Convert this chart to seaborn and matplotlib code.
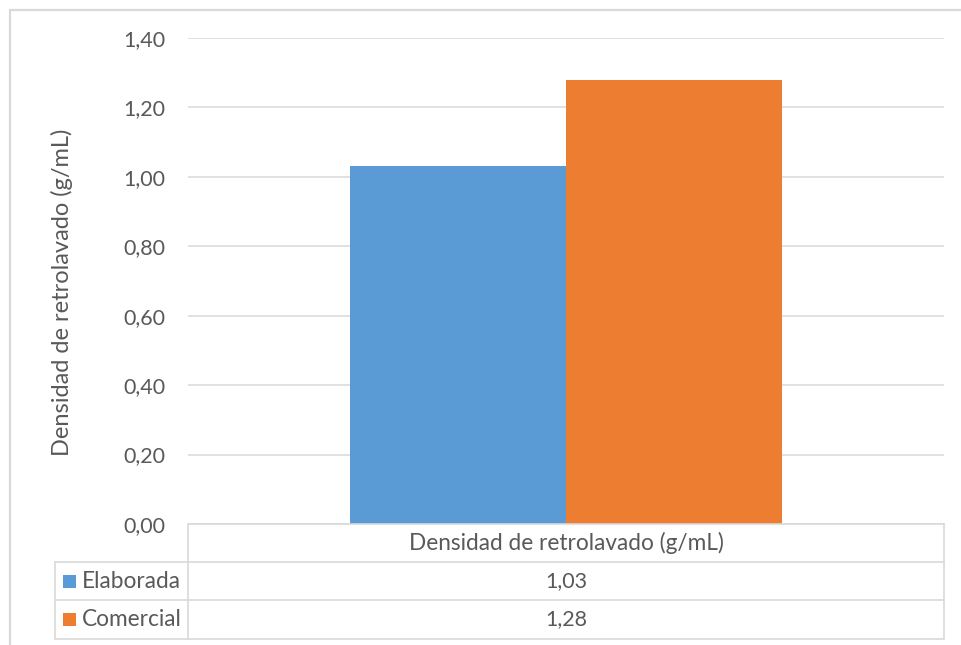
import matplotlib
matplotlib.use("Agg")
import matplotlib.pyplot as plt
from matplotlib.lines import Line2D
from matplotlib.patches import Rectangle
from matplotlib.ticker import FuncFormatter, MultipleLocator
import seaborn as sns
import pandas as pd

# ---- data ----
categorias = ["Densidad de retrolavado (g/mL)"]
series = ["Elaborada", "Comercial"]
valores = [1.03, 1.28]
colores = ["#5B9BD5", "#ED7D31"]
ylabel = "Densidad de retrolavado (g/mL)"

df = pd.DataFrame({
    "categoria": [categorias[0]] * len(series),
    "serie": series,
    "valor": valores,
})

sns.set_theme(style="white")
plt.rcParams["font.family"] = ["Lato", "DejaVu Sans"]
GRAY = "#595959"
LINE = "#d9d9d9"
FS = 15.5
FS2 = 16.3

W, H = 962, 645
fig = plt.figure(figsize=(W / 100, H / 100), dpi=100)
fig.patch.set_facecolor("white")

def fx(x):
    return x / W

def fy(y):
    return 1 - y / H

L, R, T, B = 188, 944, 38, 524
ax = fig.add_axes([fx(L), fy(B), fx(R) - fx(L), fy(T) - fy(B)])

sns.barplot(data=df, x="categoria", y="valor", hue="serie", palette=colores,
            hue_order=series, width=0.571, saturation=1, legend=False, ax=ax,
            edgecolor="none", linewidth=0, zorder=3)

ax.set_xlim(-0.5, 0.5)
ax.set_ylim(0, 1.4)
ax.yaxis.set_major_locator(MultipleLocator(0.2))
ax.yaxis.set_major_formatter(FuncFormatter(lambda v, p: f"{v:.2f}".replace(".", ",")))
ax.grid(axis="y", color=LINE, linewidth=1.1, zorder=0)
ax.set_axisbelow(True)
for s in ax.spines.values():
    s.set_visible(False)
ax.set_xticks([])
ax.set_xlabel("")
ax.tick_params(axis="y", length=0, pad=16, labelsize=FS, labelcolor=GRAY)
ax.set_ylabel(ylabel, fontsize=FS2 + 0.7, color=GRAY)
ax.yaxis.set_label_coords((62 - L) / (R - L), (B - 292) / (B - T))
ax.yaxis.label.set_va("center")

# ---- outer chart border ----
fig.add_artist(Rectangle((fx(10), fy(700)), fx(1000) - fx(10), fy(10) - fy(700),
                         transform=fig.transFigure, fill=False,
                         edgecolor=LINE, linewidth=1.6))

# ---- data table ----
def hline(y, x0, x1):
    fig.add_artist(Line2D([fx(x0), fx(x1)], [fy(y), fy(y)], transform=fig.transFigure,
                          color=LINE, linewidth=1.2))

def vline(x, y0, y1):
    fig.add_artist(Line2D([fx(x), fx(x)], [fy(y0), fy(y1)], transform=fig.transFigure,
                          color=LINE, linewidth=1.2))

rows = [524, 562, 600, 639]
hline(rows[0], L, R)
for y in rows[1:]:
    hline(y, 55, R)
vline(L, rows[0], rows[-1])
vline(R, rows[0], rows[-1])
vline(55, rows[1], rows[-1])

cx = (L + R) / 2
fig.text(fx(cx), fy((rows[0] + rows[1]) / 2), categorias[0], ha="center", va="center",
         fontsize=FS2, color=GRAY)
for i, (s, v, c) in enumerate(zip(series, valores, colores)):
    yc = (rows[i + 1] + rows[i + 2]) / 2
    fig.add_artist(Rectangle((fx(63), fy(yc + 6.5)), fx(76) - fx(63), fy(yc - 6.5) - fy(yc + 6.5),
                             transform=fig.transFigure, facecolor=c, edgecolor="none"))
    fig.text(fx(82), fy(yc), s, ha="left", va="center", fontsize=FS2, color=GRAY)
    fig.text(fx(cx), fy(yc), f"{v:.2f}".replace(".", ","), ha="center", va="center",
             fontsize=FS, color=GRAY)

fig.savefig("out.png", dpi=100, facecolor="white")
